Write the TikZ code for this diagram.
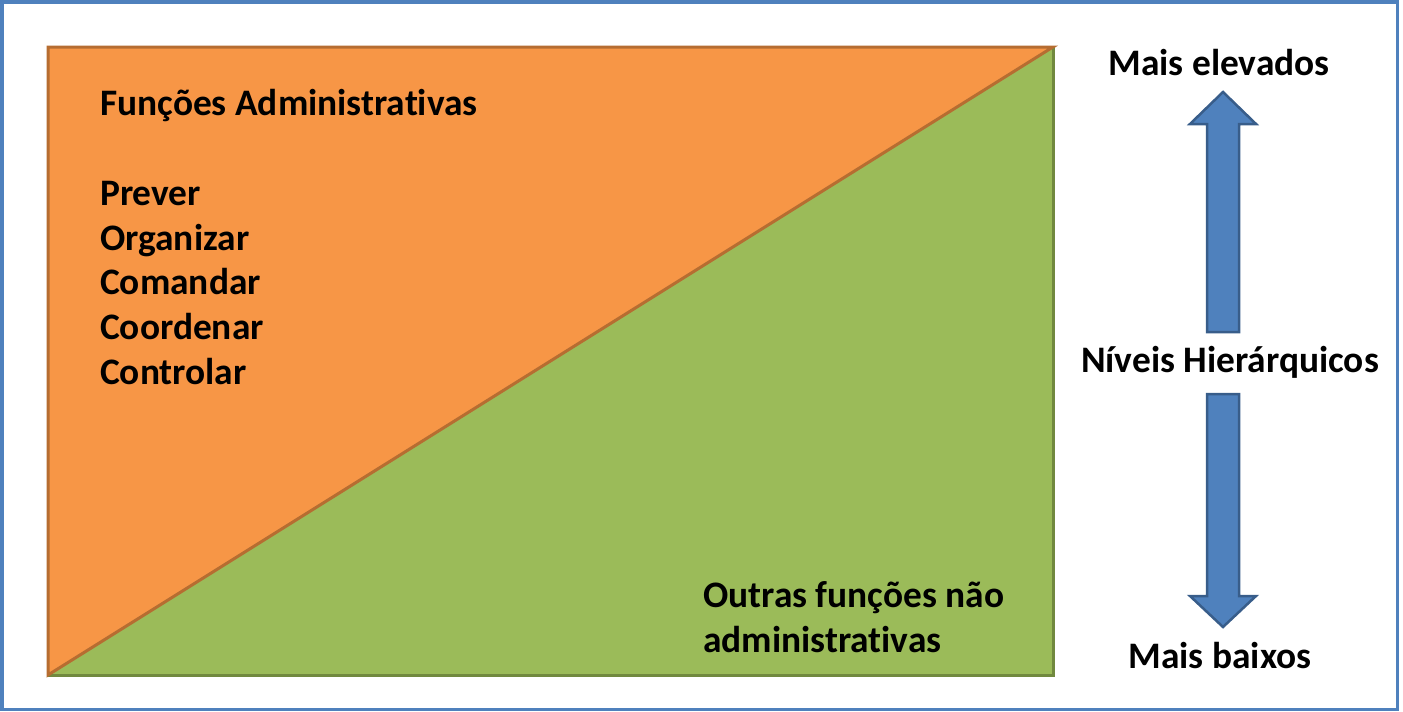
\documentclass[tikz,border=0pt]{standalone}
\usepackage{fontspec}
\setmainfont{Carlito}[RawFeature=-liga]
\definecolor{frameblue}{HTML}{4F81BD}
\definecolor{orangefill}{HTML}{F79646}
\definecolor{orangeline}{HTML}{B66D31}
\definecolor{greenfill}{HTML}{9BBB59}
\definecolor{greenline}{HTML}{71893F}
\definecolor{arrowfill}{HTML}{4F81BD}
\definecolor{arrowline}{HTML}{385D8A}
\begin{document}
\begin{tikzpicture}[x=1pt,y=-1pt,
  lbl/.style={inner sep=0pt,font=\fontsize{37.4}{45}\selectfont\bfseries},
  blockarrow/.style={fill=arrowfill,draw=arrowline,line width=2.5pt,line join=miter}]
\useasboundingbox (0,0) rectangle (1403,712);
\draw[frameblue,line width=3.5pt] (1.75,1.75) rectangle (1397.5,709.5);
% triangles
\coordinate (tl) at (48,47);
\coordinate (tr) at (1053,47);
\coordinate (bl) at (48,675);
\coordinate (br) at (1053,675);
\fill[greenfill] (bl) -- (br) -- (tr) -- cycle;
\draw[greenline,line width=3pt] (bl) -- (br) -- (tr);
\fill[orangefill] (tl) -- (tr) -- (bl) -- cycle;
\draw[orangeline,line width=3pt,line join=miter] (bl) -- (tl) -- (tr) -- cycle;
% left texts
\node[lbl,anchor=base west] (fa) at (100,115) {Funções Administrativas};
\node[lbl,anchor=base west] (p1) at (100,205) {Prever};
\node[lbl,anchor=base west] (p2) at (100,250) {Organizar};
\node[lbl,anchor=base west] (p3) at (100,294) {Comandar};
\node[lbl,anchor=base west] (p4) at (100,339) {Coordenar};
\node[lbl,anchor=base west] (p5) at (100,384) {Controlar};
\node[lbl,anchor=base west] (o1) at (703,607) {Outras funções não};
\node[lbl,anchor=base west] (o2) at (703,652) {administrativas};
% right texts
\node[lbl,anchor=base] (me) at (1219,75) {Mais elevados};
\node[lbl,anchor=base] (nh) at (1230,372) {Níveis Hierárquicos};
\node[lbl,anchor=base] (mb) at (1220,668) {Mais baixos};
% arrows
\draw[blockarrow] (1223,92) -- (1256,124) -- (1239,124) -- (1239,332) -- (1207,332) -- (1207,124) -- (1190,124) -- cycle;
\draw[blockarrow] (1223,627) -- (1256,596) -- (1239,596) -- (1239,394) -- (1207,394) -- (1207,596) -- (1190,596) -- cycle;
\end{tikzpicture}
\end{document}
